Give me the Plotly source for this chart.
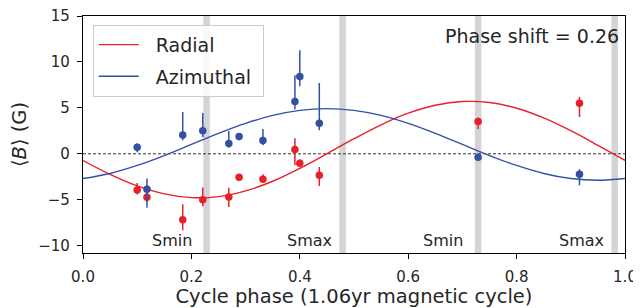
import plotly.graph_objects as go

# Fitted curves
curve_phase = [0.0, 0.05, 0.1, 0.15, 0.2, 0.25, 0.3, 0.35, 0.4, 0.45, 0.5,
               0.55, 0.6, 0.65, 0.7, 0.75, 0.8, 0.85, 0.9, 0.95, 1.0]
radial_curve = [-0.73, -2.24, -3.50, -4.37, -4.77, -4.66, -4.04, -2.99, -1.59, 0.00, 1.64,
                3.16, 4.42, 5.29, 5.69, 5.58, 4.96, 3.91, 2.51, 0.92, -0.72]
azimuthal_curve = [-2.69, -2.14, -1.27, -0.19, 1.02, 2.23, 3.31, 4.18, 4.73, 4.92, 4.73,
                   4.18, 3.31, 2.23, 1.02, -0.19, -1.27, -2.14, -2.69, -2.88, -2.69]

# Observations
obs_phase = [0.100, 0.118, 0.184, 0.221, 0.269, 0.288, 0.332, 0.391, 0.400, 0.436, 0.729, 0.916]
radial_obs = [-3.94, -4.74, -7.17, -4.99, -4.70, -2.56, -2.78, 0.46, -1.03, -2.34, 3.51, 5.50]
radial_err_up = [0.76, 0.5, 1.67, 1.31, 1.0, 0.3, 0.54, 1.23, 0.4, 0.9, 0.44, 0.69]
radial_err_dn = [0.5, 0.5, 1.16, 0.73, 1.1, 0.3, 0.4, 1.71, 0.4, 1.16, 0.8, 1.49]
azimuthal_obs = [0.71, -3.87, 2.05, 2.52, 1.11, 1.87, 1.44, 5.68, 8.41, 3.32, -0.38, -2.23]
azimuthal_err_up = [0.4, 1.17, 2.5, 1.92, 1.37, 0.4, 1.27, 2.87, 2.87, 4.39, 0.2, 0.54]
azimuthal_err_dn = [0.54, 2.0, 0.58, 0.69, 0.44, 0.4, 0.51, 0.84, 1.06, 0.76, 0.2, 1.2]

# Cycle markers
band_centers = [0.228, 0.479, 0.729, 0.981]
band_labels = ["Smin", "Smax", "Smin", "Smax"]
label_gap = {"Smin": 0.024, "Smax": 0.016}

RED = "#e8202a"
BLUE = "#3450a2"
FONT = "DejaVu Sans"
TXT = "#262626"
NB = "\u00a0"

fig = go.Figure()

for c in band_centers:
    fig.add_vrect(x0=c - 0.006, x1=c + 0.006, fillcolor="#d4d4d6", line_width=0,
                  layer="below")

fig.add_hline(y=0, line=dict(color="black", width=0.8, dash="3px,2px"), layer="below")

fig.add_trace(go.Scatter(x=curve_phase, y=radial_curve, mode="lines",
                         name=NB * 2 + "Radial", legendgroup="r",
                         line=dict(color=RED, width=1.4, shape="spline")))
fig.add_trace(go.Scatter(x=curve_phase, y=azimuthal_curve, mode="lines",
                         name=NB * 2 + "Azimuthal" + NB, legendgroup="a",
                         line=dict(color=BLUE, width=1.4, shape="spline")))

fig.add_trace(go.Scatter(x=obs_phase, y=radial_obs, mode="markers", showlegend=False,
                         marker=dict(color=RED, size=7.5),
                         error_y=dict(type="data", array=radial_err_up, arrayminus=radial_err_dn,
                                      color=RED, thickness=1.5, width=0)))
fig.add_trace(go.Scatter(x=obs_phase, y=azimuthal_obs, mode="markers", showlegend=False,
                         marker=dict(color=BLUE, size=7.5),
                         error_y=dict(type="data", array=azimuthal_err_up, arrayminus=azimuthal_err_dn,
                                      color=BLUE, thickness=1.5, width=0)))

for c, lab in zip(band_centers, band_labels):
    fig.add_annotation(x=c - label_gap[lab], y=-9.4, text=lab, showarrow=False,
                       xanchor="right", yanchor="middle",
                       font=dict(family=FONT, size=16, color=TXT))

fig.add_annotation(x=0.992, y=0.916, xref="paper", yref="paper", text="Phase shift = 0.26",
                   showarrow=False, xanchor="right", yanchor="middle",
                   font=dict(family=FONT, size=19, color=TXT))

axis_common = dict(showline=True, linecolor="black", linewidth=1.3, mirror=True,
                   ticks="outside", ticklen=5, tickwidth=1.2, tickcolor="black",
                   showgrid=False, zeroline=False, automargin=False,
                   ticklabeloverflow="allow",
                   tickfont=dict(family=FONT, size=15, color=TXT))

fig.update_xaxes(range=[0, 1], tickvals=[0, 0.2, 0.4, 0.6, 0.8, 1.0],
                 ticktext=["0.0", "0.2", "0.4", "0.6", "0.8", "1.0"],
                 ticklabelstandoff=5,
                 title=dict(text="Cycle phase (1.06yr magnetic cycle)", standoff=10,
                            font=dict(family=FONT, size=19.5, color=TXT)),
                 **axis_common)
fig.update_yaxes(range=[-10.8, 15], tickvals=[-10, -5, 0, 5, 10, 15],
                 ticklabelstandoff=4,
                 title=dict(text="⟨<i>B</i>⟩ (G)", standoff=17,
                            font=dict(family=FONT, size=19.5, color=TXT)),
                 **axis_common)

# page body has an 8px margin; figure sized to fit the 641x308 window
fig.update_layout(
    width=633, height=300,
    margin=dict(l=75, r=16, t=8, b=55),
    plot_bgcolor="white", paper_bgcolor="white",
    font=dict(family=FONT, color=TXT),
    legend=dict(x=0.018, y=0.963, xanchor="left", yanchor="top", traceorder="grouped",
                bgcolor="rgba(255,255,255,0.85)", bordercolor="#cccccc", borderwidth=1,
                font=dict(family=FONT, size=19, color=TXT), tracegroupgap=4,
                itemwidth=40),
)

fig.write_html("out.html")
